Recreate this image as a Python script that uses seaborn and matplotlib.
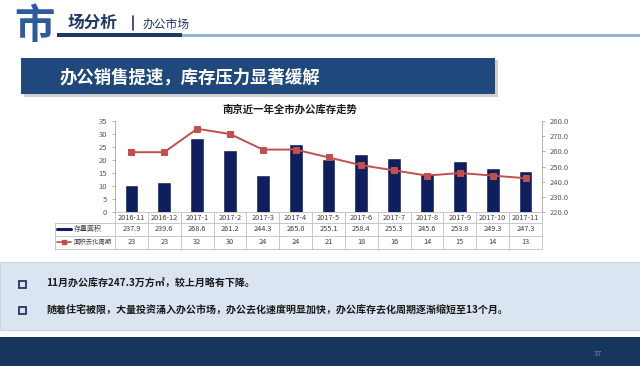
import numpy as np
import matplotlib
matplotlib.use("Agg")
import matplotlib.pyplot as plt
import matplotlib.patches as mpatches
import matplotlib.transforms as mtransforms
import seaborn as sns

# chart data
months = ['2016-11', '2016-12', '2017-1', '2017-2', '2017-3', '2017-4', '2017-5',
          '2017-6', '2017-7', '2017-8', '2017-9', '2017-10', '2017-11']
stock_area = [237.9, 239.6, 268.6, 261.2, 244.3, 265.0, 255.1,
              258.4, 255.3, 245.6, 253.8, 249.3, 247.3]
cycle_months = [23, 23, 32, 30, 24, 24, 21, 18, 16, 14, 15, 14, 13]
row_labels = ['存量面积', '面积去化周期']
left_ticks = [0, 5, 10, 15, 20, 25, 30, 35]
right_ticks = [220, 230, 240, 250, 260, 270, 280]

# slide texts
section_title = '场分析'
section_sub = '办公市场'
banner_text = '办公销售提速，库存压力显著缓解'
chart_title = '南京近一年全市办公库存走势'
bullets = ['11月办公库存247.3万方㎡，较上月略有下降。',
           '随着住宅被限，大量投资涌入办公市场，办公去化速度明显加快，办公库存去化周期逐渐缩短至13个月。']
page_no = '37'

sns.set_theme(style="white")
plt.rcParams['font.family'] = ['Noto Sans CJK SC', 'DejaVu Sans']

W, H = 640, 366
navy = '#0f1f5e'
red = '#c0504d'
grid_gray = '#bfbfbf'
txt_gray = '#404040'

fig = plt.figure(figsize=(W / 100, H / 100), dpi=100)

# background canvas in pixel coordinates
bg = fig.add_axes([0, 0, 1, 1])
bg.set_xlim(0, W)
bg.set_ylim(H, 0)
bg.axis('off')

# header
bg.text(34, 38, '市', fontsize=29, fontweight='bold', color='#2b5b9c', ha='center', va='baseline')
bg.text(68, 23, section_title, fontsize=12, fontweight='bold', color='#1f3864', ha='left', va='center')
bg.plot([133, 133], [16, 30], color='#1f3864', lw=1.2)
bg.text(143, 24, section_sub, fontsize=8.5, color='#1f3864', ha='left', va='center')
bg.add_patch(mpatches.Rectangle((57, 33), 125, 4, color='#1f3864', lw=0))
bg.add_patch(mpatches.Rectangle((182, 33.5), W - 182, 3, color='#95b3d7', lw=0))

# banner
bg.add_patch(mpatches.Rectangle((24, 60), 474, 37, color='#d0d0d0', lw=0))
bg.add_patch(mpatches.Rectangle((21, 58), 474, 36, color='#1f497d', lw=0))
bg.text(60, 78, banner_text, fontsize=12.5, fontweight='bold', color='white', ha='left', va='center')

# text box
bg.add_patch(mpatches.Rectangle((0, 262), W, 68, facecolor='#dbe5f1', edgecolor='#c6d5e8', lw=0.8))
for i, line in enumerate(bullets):
    y = 284 + i * 26
    bg.add_patch(mpatches.Rectangle((19, y - 3.5), 7, 7, facecolor='none', edgecolor='#1f3864', lw=1.3))
    bg.text(46, y, line, fontsize=7.2, fontweight='bold', color='#1a1a1a', ha='left', va='center')

# footer
bg.add_patch(mpatches.Rectangle((0, 337), W, H - 337, color='#17365d', lw=0))
bg.text(598, 354, page_no, fontsize=5.5, color='#7f8fa9', ha='center', va='center')

# chart axes
ax = fig.add_axes([115 / W, 1 - 212 / H, 427 / W, 91 / H])
ax2 = ax.twinx()

x = np.arange(len(months))
sns.barplot(x=x, y=stock_area, ax=ax, color=navy, width=0.42, saturation=1, native_scale=True)
sns.lineplot(x=x, y=cycle_months, ax=ax2, color=red, marker='s', markersize=4,
             markeredgecolor=red, linewidth=1.4, sort=False)

ax.set_xlim(-0.5, len(months) - 0.5)
ax.set_ylim(220, 280)
ax2.set_ylim(0, 35)
ax.set_yticks(right_ticks)
ax.set_yticklabels([f'{v:.1f}' for v in right_ticks])
ax2.set_yticks(left_ticks)
ax.yaxis.tick_right()
ax2.yaxis.tick_left()
ax.set_xticks([])
ax.set_xlabel('')
ax.set_ylabel('')
ax2.set_ylabel('')

for a in (ax, ax2):
    for s in a.spines.values():
        s.set_visible(False)
    a.tick_params(axis='y', labelsize=5.5, labelcolor='#595959', color='#a6a6a6',
                  length=2.5, width=0.6, direction='out', pad=3)
ax2.spines['left'].set_visible(True)
ax2.spines['left'].set_color('#a6a6a6')
ax2.spines['left'].set_linewidth(0.6)
ax.spines['right'].set_visible(True)
ax.spines['right'].set_color('#a6a6a6')
ax.spines['right'].set_linewidth(0.6)

ax.set_title(chart_title, fontsize=7.5, fontweight='bold', color='#1a1a1a', pad=6, x=0.41)

# data table under the chart
tr = mtransforms.blended_transform_factory(ax.transData, ax.transAxes)
cat_w = 427 / len(months)
leg_left = -0.5 - 60 / cat_w
right_edge = len(months) - 0.5
y0, y1, y2, y3 = 0, -11 / 91, -23.5 / 91, -37 / 91

line_kw = dict(color=grid_gray, lw=0.6, transform=tr, clip_on=False)
ax.plot([-0.5, right_edge], [y0, y0], **line_kw)
for yy in (y1, y2, y3):
    ax.plot([leg_left, right_edge], [yy, yy], **line_kw)
for k in range(len(months) + 1):
    ax.plot([k - 0.5, k - 0.5], [y0, y3], **line_kw)
ax.plot([leg_left, leg_left], [y1, y3], **line_kw)

cell_kw = dict(transform=tr, ha='center', va='center', fontsize=5.3, color=txt_gray, clip_on=False)
for i, m in enumerate(months):
    ax.text(i, (y0 + y1) / 2, m, **cell_kw)
    ax.text(i, (y1 + y2) / 2, f'{stock_area[i]:.1f}', **cell_kw)
    ax.text(i, (y2 + y3) / 2, f'{cycle_months[i]}', **cell_kw)

# row legends
sym_x0 = leg_left + 2 / cat_w
sym_x1 = leg_left + 16 / cat_w
ax.plot([sym_x0, sym_x1], [(y1 + y2) / 2] * 2, color=navy, lw=2.2, transform=tr, clip_on=False)
ax.plot([sym_x0, sym_x1], [(y2 + y3) / 2] * 2, color=red, lw=1.2, transform=tr, clip_on=False)
ax.plot([(sym_x0 + sym_x1) / 2], [(y2 + y3) / 2], marker='s', markersize=3, color=red,
        transform=tr, clip_on=False)
ax.text(leg_left + 19 / cat_w, (y1 + y2) / 2, row_labels[0], transform=tr, ha='left', va='center',
        fontsize=5, color=txt_gray, clip_on=False)
ax.text(leg_left + 19 / cat_w, (y2 + y3) / 2, row_labels[1], transform=tr, ha='left', va='center',
        fontsize=4.6, color=txt_gray, clip_on=False)

fig.savefig('out.png', dpi=100)
